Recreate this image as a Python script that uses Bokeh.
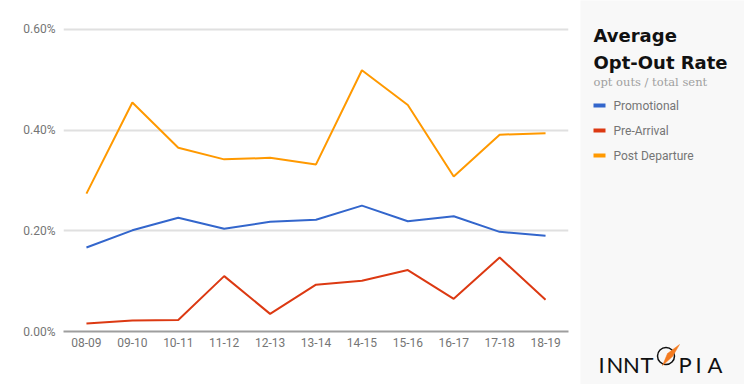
from bokeh.plotting import figure
from bokeh.layouts import row
from bokeh.models import FactorRange, Range1d, FixedTicker, PrintfTickFormatter
from bokeh.core.properties import value
from bokeh.embed import file_html
from bokeh.resources import INLINE

# ---- data (percent values) ----
categories = ["08-09", "09-10", "10-11", "11-12", "12-13", "13-14",
              "14-15", "15-16", "16-17", "17-18", "18-19"]
promotional = [0.167, 0.201, 0.226, 0.204, 0.218, 0.222, 0.250, 0.219, 0.229, 0.198, 0.190]
pre_arrival = [0.016, 0.022, 0.023, 0.110, 0.035, 0.093, 0.101, 0.122, 0.065, 0.147, 0.063]
post_departure = [0.274, 0.455, 0.365, 0.342, 0.345, 0.332, 0.519, 0.450, 0.308, 0.391, 0.394]
series_names = ["Promotional", "Pre-Arrival", "Post Departure"]
series_colors = ["#3366cc", "#dc3912", "#ff9900"]
y_ticks = [0.0, 0.2, 0.4, 0.6]
title_lines = ["Average", "Opt-Out Rate"]
subtitle = "opt outs / total sent"
logo_letters = ["I", "N", "N", "T", "P", "I", "A"]

# ---- main chart ----
p1 = figure(x_range=FactorRange(*categories), y_range=Range1d(0, 0.6139),
            width=580, height=384, output_backend="svg", toolbar_location=None,
            min_border_left=63, min_border_right=12, min_border_top=22,
            min_border_bottom=53)

for vals, col in zip([promotional, pre_arrival, post_departure], series_colors):
    p1.line(categories, vals, line_color=col, line_width=2)

p1.outline_line_color = None
p1.xgrid.grid_line_color = None
p1.ygrid.grid_line_color = "#e0e0e0"
p1.ygrid.grid_line_width = 2
p1.ygrid.ticker = FixedTicker(ticks=y_ticks)
p1.yaxis.ticker = FixedTicker(ticks=y_ticks)
p1.yaxis.formatter = PrintfTickFormatter(format="%.2f%%")
p1.yaxis.axis_line_color = None
p1.xaxis.axis_line_color = "#9e9e9e"
p1.xaxis.axis_line_width = 2
p1.yaxis.major_label_standoff = 8
p1.xaxis.major_label_standoff = 6
for ax in (p1.xaxis, p1.yaxis):
    ax.major_tick_line_color = None
    ax.minor_tick_line_color = None
    ax.major_tick_out = 0
    ax.major_tick_in = 0
    ax.minor_tick_out = 0
    ax.minor_tick_in = 0
    ax.major_label_text_font = "Roboto"
    ax.major_label_text_font_size = "12px"
    ax.major_label_text_color = "#757575"

# ---- side panel (coordinates in page pixels) ----
p2 = figure(x_range=Range1d(580, 744), y_range=Range1d(384, 0),
            width=164, height=384, output_backend="svg", toolbar_location=None,
            min_border_left=0, min_border_right=0, min_border_top=0, min_border_bottom=0)
for pp in (p1, p2):
    try:
        pp.frame_align = False
    except Exception:
        pass
p2.axis.visible = False
p2.grid.visible = False
p2.outline_line_color = None
p2.background_fill_color = "#f8f8f8"
p2.border_fill_color = "#f8f8f8"

p2.text(x=[593, 593], y=[35, 61.5], text=title_lines, text_font=value("DejaVu Sans"),
        text_font_style="bold", text_font_size=value("18px"), text_color="#111111",
        text_baseline="alphabetic")
p2.text(x=[593], y=[81.5], text=[subtitle], text_font=value("DejaVu Serif"),
        text_font_size=value("11.5px"), text_color="#a0a0a0", text_baseline="alphabetic")

leg_y = [105, 130, 155]
p2.segment(x0=[593] * 3, y0=leg_y, x1=[605] * 3, y1=leg_y, line_color=series_colors,
           line_width=4)
p2.text(x=[613] * 3, y=leg_y, text=series_names, text_font=value("Roboto"),
        text_font_size=value("12px"), text_color="#757575", text_baseline="middle")

# logo
logo_x = [601, 614.5, 631, 646.5, 684.5, 698, 714.5]
p2.text(x=logo_x, y=[363.5] * 7, text=logo_letters, text_font=value("Lato"),
        text_font_size=value("22px"), text_color="#111111", text_align="center",
        text_baseline="alphabetic")
p2.scatter(x=[665.5], y=[355.5], size=17, marker="circle", fill_color=None,
           line_color="#111111", line_width=1.5)
p2.patch(x=[662, 667, 679, 672], y=[365, 353, 344, 356], fill_color="#f47b20",
         line_color="#f47b20", line_width=0.5)

layout = row(p1, p2)
open("out.html", "w").write(file_html(layout, INLINE))
